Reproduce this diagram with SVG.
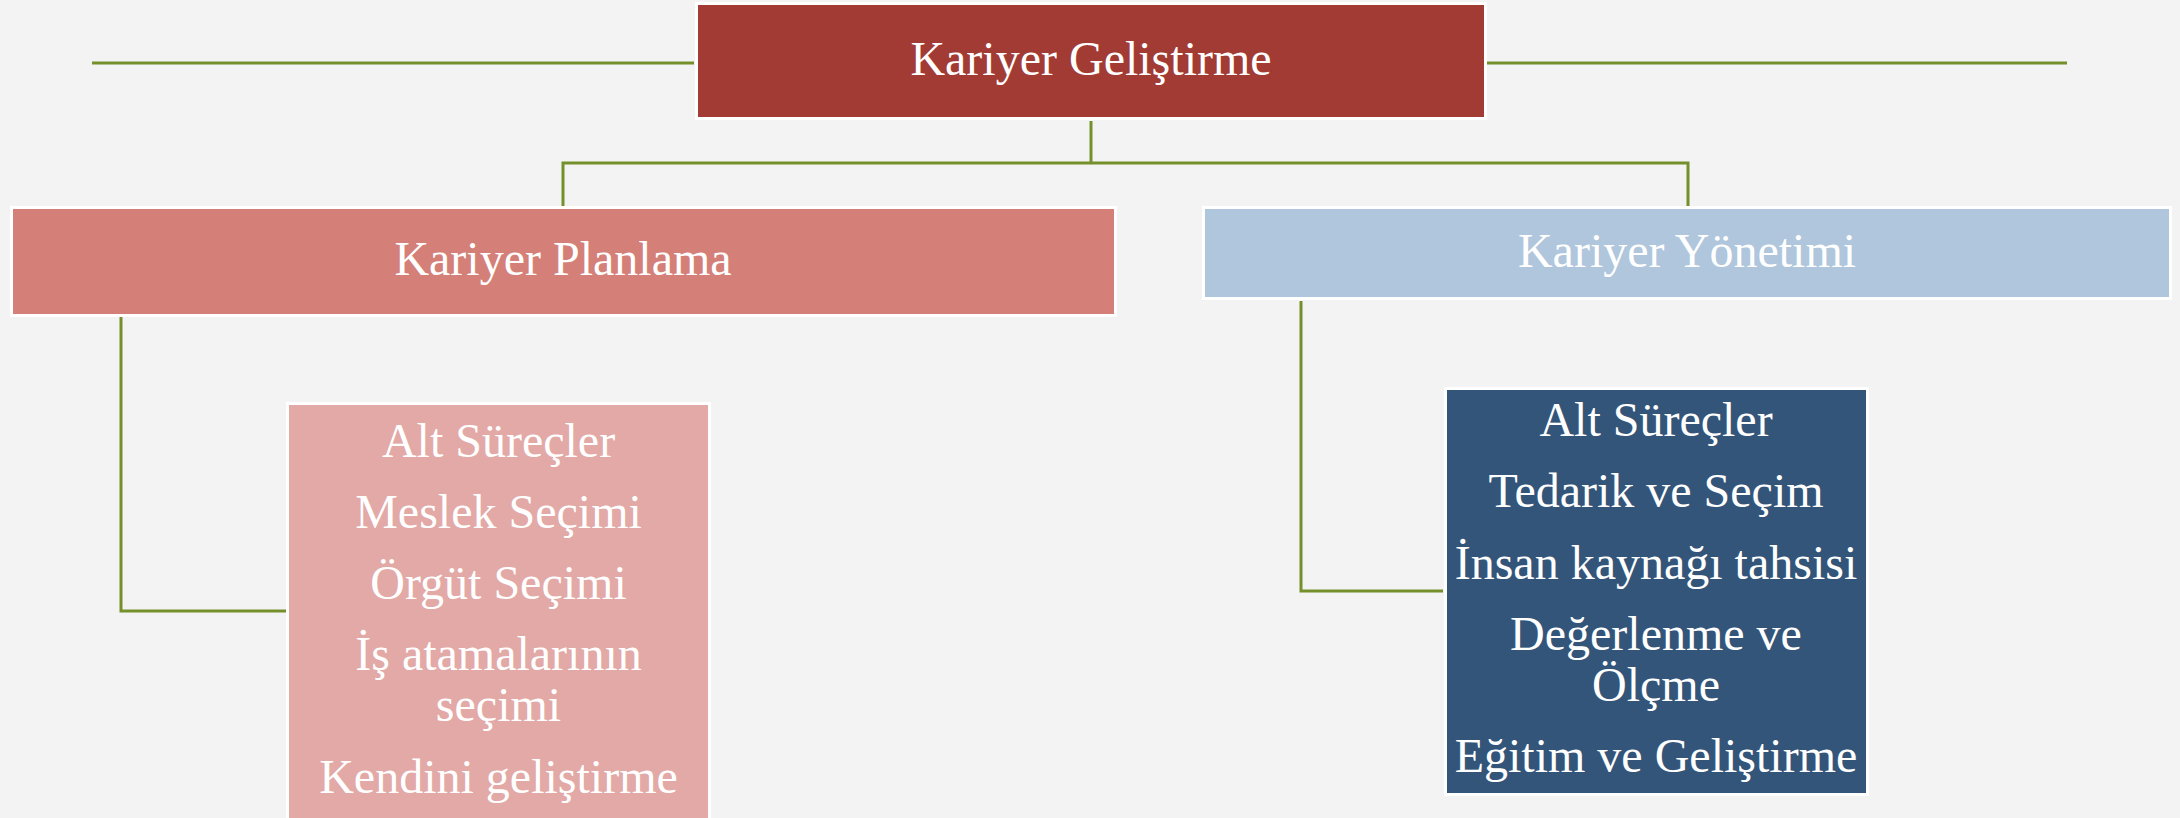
<svg xmlns="http://www.w3.org/2000/svg" width="2180" height="818" viewBox="0 0 2180 818">
<style>
.bg{fill:#F3F3F3}
.wb{fill:#FFFFFF}
.lbl{font-family:"Liberation Serif","Times New Roman",serif;font-size:48px;fill:#FFFFFF;text-anchor:middle}
.con{fill:none;stroke:#75902A;stroke-width:3;stroke-linecap:butt}
</style>
<defs>
<pattern id="tex" width="12" height="12" patternUnits="userSpaceOnUse" patternTransform="rotate(-35)">
<rect width="12" height="12" fill="#F4F4F4"/>
<rect width="12" height="4" fill="#EFEFEF"/>
</pattern>
</defs>
<rect class="bg" width="2180" height="818" fill="url(#tex)"/>
<g id="connectors">
<line class="con" x1="92" y1="63" x2="694" y2="63"/>
<line class="con" x1="1487" y1="63" x2="2067" y2="63"/>
<polyline class="con" points="1091,121 1091,163"/>
<polyline class="con" points="563,207 563,163 1688,163 1688,207"/>
<polyline class="con" points="121,317 121,611 286,611"/>
<polyline class="con" points="1301,301 1301,591 1443,591"/>
</g>
<g id="node-kariyer-gelistirme">
<rect class="wb" x="695" y="2" width="792" height="118"/>
<rect x="698" y="5" width="786" height="112" fill="#A23B34"/>
<text class="lbl" x="1091" y="75">Kariyer Geliştirme</text>
</g>
<g id="node-kariyer-planlama">
<rect class="wb" x="10" y="206" width="1107" height="111"/>
<rect x="13" y="209" width="1101" height="105" fill="#D47F78"/>
<text class="lbl" x="563" y="275">Kariyer Planlama</text>
</g>
<g id="node-kariyer-yonetimi">
<rect class="wb" x="1202" y="206" width="970" height="94"/>
<rect x="1205" y="209" width="964" height="88" fill="#B0C6DC"/>
<text class="lbl" x="1687" y="267">Kariyer Yönetimi</text>
</g>
<g id="node-planlama-alt">
<rect class="wb" x="286" y="402" width="425" height="420"/>
<rect x="289" y="405" width="419" height="420" fill="#E2A9A6"/>
<text class="lbl" x="498.5" y="457">Alt Süreçler</text>
<text class="lbl" x="498.5" y="528">Meslek Seçimi</text>
<text class="lbl" x="498.5" y="599">Örgüt Seçimi</text>
<text class="lbl" x="498.5" y="670">İş atamalarının</text>
<text class="lbl" x="498.5" y="721">seçimi</text>
<text class="lbl" x="498.5" y="793">Kendini geliştirme</text>
</g>
<g id="node-yonetim-alt">
<rect class="wb" x="1444" y="387" width="425" height="409"/>
<rect x="1447" y="390" width="419" height="403" fill="#34557A"/>
<text class="lbl" x="1656" y="436">Alt Süreçler</text>
<text class="lbl" x="1656" y="507">Tedarik ve Seçim</text>
<text class="lbl" x="1656" y="579">İnsan kaynağı tahsisi</text>
<text class="lbl" x="1656" y="650">Değerlenme ve</text>
<text class="lbl" x="1656" y="701">Ölçme</text>
<text class="lbl" x="1656" y="772">Eğitim ve Geliştirme</text>
</g>
</svg>
